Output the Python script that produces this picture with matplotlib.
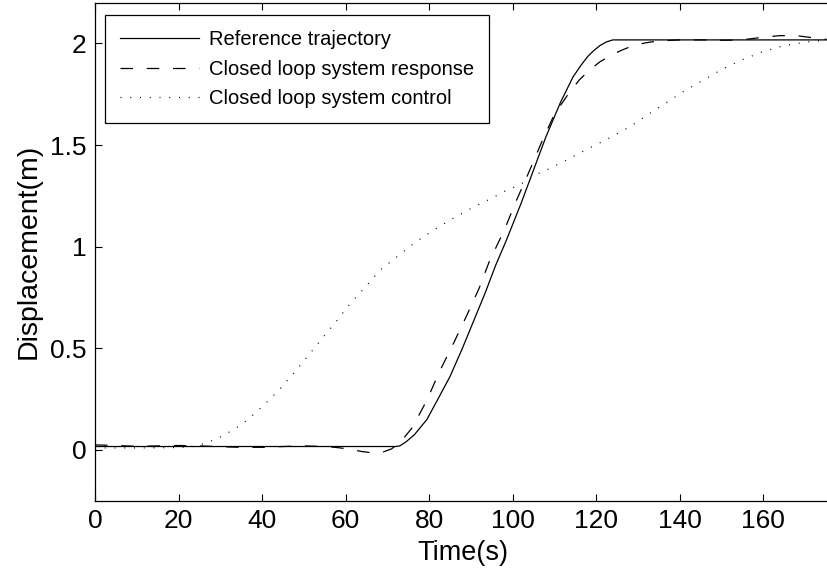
import matplotlib
matplotlib.use('Agg')
import matplotlib.pyplot as plt

# Reference trajectory (solid)
t_ref = [0, 72, 73, 74.5, 76.5, 79.5, 82, 85, 88, 90.5, 93.5, 96, 98.5, 102,
         105, 108, 111.5, 114.5, 116.5, 118, 119.5, 121, 122.5, 124, 175.2]
y_ref = [0.017, 0.017, 0.02, 0.04, 0.075, 0.15, 0.245, 0.36, 0.5, 0.625, 0.775,
         0.91, 1.03, 1.21, 1.375, 1.54, 1.71, 1.835, 1.895, 1.935, 1.965, 1.99,
         2.007, 2.017, 2.017]

# Closed loop system response (dashed)
t_resp = [0, 5, 10, 15, 20, 25, 30, 35, 40, 45, 50, 55, 58, 61, 64, 66.5, 69,
          71, 73, 76, 79.5, 82.5, 86, 89, 92, 94.5, 98, 101, 104, 107, 110,
          113.5, 116, 118.5, 121, 123.5, 126, 129, 132, 135, 140, 146, 150,
          153, 156, 160, 164, 168, 171, 175.2]
y_resp = [0.025, 0.022, 0.018, 0.02, 0.022, 0.02, 0.016, 0.013, 0.013, 0.017,
          0.02, 0.017, 0.012, 0.004, -0.008, -0.014, -0.01, 0.005, 0.035, 0.11,
          0.245, 0.385, 0.53, 0.66, 0.795, 0.93, 1.08, 1.23, 1.37, 1.515, 1.65,
          1.755, 1.82, 1.87, 1.91, 1.94, 1.965, 1.99, 2.003, 2.012, 2.017,
          2.017, 2.015, 2.016, 2.02, 2.03, 2.038, 2.038, 2.03, 2.02]

# Closed loop system control (dotted)
t_ctrl = [0, 10, 20, 24, 26.8, 29.5, 31.9, 34.3, 36.7, 38.7, 40.7, 42.7, 44.3,
          47.9, 51.5, 55.1, 57.7, 61.1, 64.7, 68.3, 72.3, 76.6, 81, 85.4, 89.8,
          94.2, 98.8, 101.4, 105.8, 109, 113.8, 118.3, 122.8, 128.1, 132.7,
          137.1, 141.6, 145.8, 150.3, 155.1, 160.1, 165.3, 170.5, 175.2]
y_ctrl = [0.01, 0.01, 0.012, 0.018, 0.036, 0.058, 0.085, 0.115, 0.151, 0.188,
          0.226, 0.267, 0.30, 0.385, 0.475, 0.566, 0.63, 0.72, 0.80, 0.885, 0.95,
          1.02, 1.08, 1.135, 1.185, 1.23, 1.28, 1.30, 1.356, 1.385, 1.435, 1.484,
          1.53, 1.59, 1.653, 1.712, 1.772, 1.82, 1.874, 1.92, 1.96, 1.99, 2.007,
          2.015]

labels = ['Reference trajectory', 'Closed loop system response',
          'Closed loop system control']

plt.rcParams['font.family'] = ['Liberation Sans', 'DejaVu Sans']

fig = plt.figure(figsize=(8.27, 5.71), dpi=100)
ax = fig.add_axes([95 / 827, 1 - 500.8 / 571, 734.8 / 827, 498.1 / 571])

lw = 0.9
ax.plot(t_ref, y_ref, color='k', lw=lw, label=labels[0])
ax.plot(t_resp, y_resp, color='k', lw=lw, dashes=(10, 11), label=labels[1])
ax.plot(t_ctrl, y_ctrl, color='k', lw=lw, dashes=(0.8, 7),
        label=labels[2])

ax.set_xlim(0, 176)
ax.set_ylim(-0.25, 2.2)
ax.set_xticks(range(0, 161, 20))
ax.set_yticks([0, 0.5, 1, 1.5, 2])
ax.set_yticklabels(['0', '0.5', '1', '1.5', '2'])
ax.tick_params(direction='in', length=5, width=0.8, labelsize=19, pad=6,
               top=True, right=False)
for s in ax.spines.values():
    s.set_linewidth(0.9)

ax.set_xlabel('Time(s)', fontsize=19.5, labelpad=5)
ax.set_ylabel('Displacement(m)', fontsize=20.5, labelpad=6)

leg = ax.legend(loc='upper left', bbox_to_anchor=(105 / 827, 1 - 15 / 571),
                bbox_transform=fig.transFigure, borderaxespad=0,
                fontsize=14.5, frameon=True, fancybox=False, shadow=False,
                handlelength=3.9, handletextpad=0.5, labelspacing=0.52,
                borderpad=0.75)
leg.get_frame().set_edgecolor('k')
leg.get_frame().set_linewidth(0.9)
leg.get_frame().set_alpha(1)

fig.savefig('out.png', dpi=100)
